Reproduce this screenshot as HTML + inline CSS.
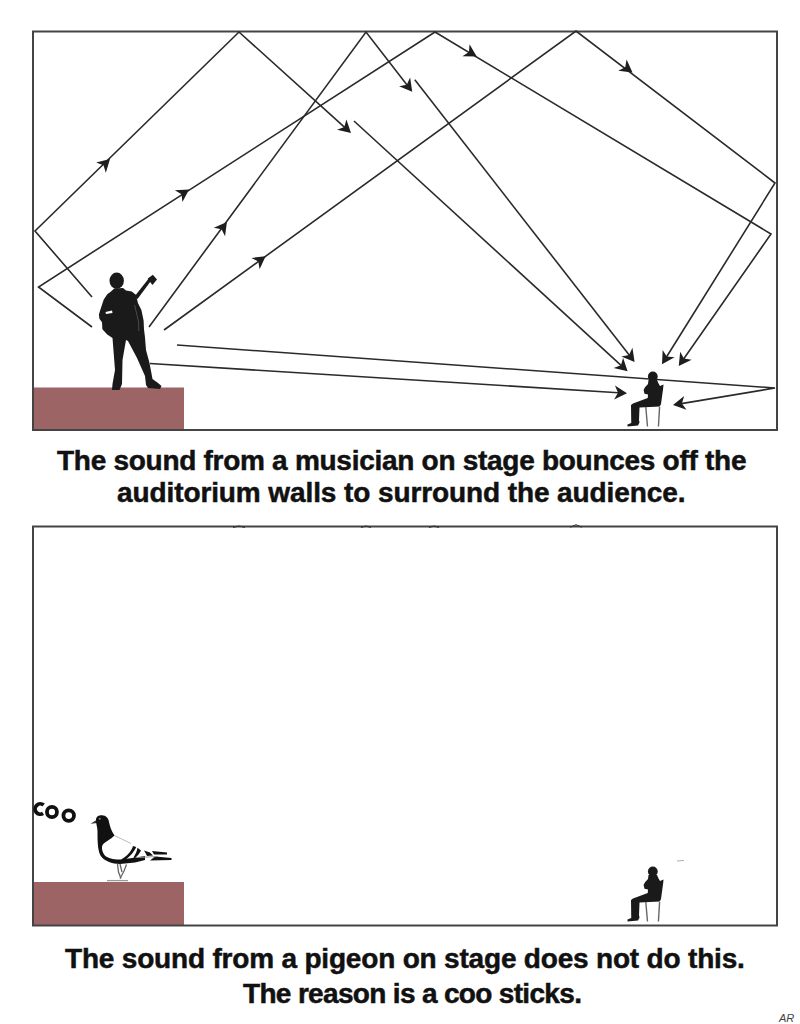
<!DOCTYPE html>
<html><head><meta charset="utf-8">
<style>
html,body{margin:0;padding:0;background:#fff;width:800px;height:1024px;overflow:hidden}
svg{position:absolute;left:0;top:0}
.cap{position:absolute;font-family:"Liberation Sans",sans-serif;font-weight:bold;font-size:28px;line-height:28px;color:#111;white-space:nowrap;-webkit-text-stroke:0.5px #111}
</style></head><body>
<svg width="800" height="1024" viewBox="0 0 800 1024">
<defs>
<g id="sitter">
<g fill="#1a1a1a"><ellipse cx="652.8" cy="376.5" rx="4.9" ry="5"/>
<path d="M648.5,380 L657,380 L658.5,383.5 L660,386 L663.5,384.5 L663.2,388 L661,404 L659.75,406.5 L639.5,407.5 L639,420 L639.5,422.5 L638,425.5 L627.5,426.5 L627.5,424.5 L631.25,423 L631,405 L633,403.5 L647.75,398 L648,394.5 L644.5,393.8 L643.6,390 L645,387.3 L648,384 Z"/></g>
<g stroke="#666" stroke-width="1.4" fill="none"><line x1="645.8" y1="407" x2="647.5" y2="426.5"/><line x1="659.6" y1="407" x2="658.4" y2="426.5"/></g>
</g>
</defs>
<!-- top panel -->
<rect x="33" y="387.5" width="151" height="42.5" fill="#9c6464"/>
<rect x="33" y="31.5" width="744" height="398.5" fill="none" stroke="#444" stroke-width="2"/>
<g fill="none" stroke="#2a2a2a" stroke-width="1.6" stroke-linejoin="miter">
<polyline points="92.00,297.00 35.00,231.00 239.00,32.00 344.69,127.31"/>
<polyline points="354.00,121.00 621.33,365.56"/>
<polyline points="92.00,327.00 38.50,287.00 435.00,32.00 771.00,234.00 683.62,359.03"/>
<polyline points="149.00,327.00 366.00,32.00 407.05,85.03"/>
<polyline points="414.80,79.80 629.38,355.29"/>
<polyline points="164.00,330.00 576.00,31.00 775.00,183.00 666.50,357.04"/>
<polyline points="177.00,345.00 775.00,388.00 681.38,403.60"/>
<polyline points="150.00,363.50 618.52,392.77"/>
</g><g fill="#1e1e1e" stroke="none">
<polygon points="351.00,133.00 337.03,129.83 344.32,126.97 346.40,119.43"/>
<polygon points="627.60,371.30 613.65,368.03 620.96,365.23 623.10,357.70"/>
<polygon points="678.75,366.00 680.17,351.74 683.91,358.62 691.65,359.76"/>
<polygon points="412.25,91.75 399.06,86.15 406.74,84.63 410.13,77.58"/>
<polygon points="634.60,362.00 621.40,356.44 629.07,354.90 632.44,347.84"/>
<polygon points="662.00,364.25 662.67,349.94 666.76,356.61 674.55,357.35"/>
<polygon points="673.00,405.00 684.18,396.04 681.88,403.52 686.48,409.85"/>
<polygon points="627.00,393.30 614.09,399.51 618.02,392.74 614.96,385.53"/>
<polygon points="110.00,159.00 105.83,172.71 103.51,165.23 96.13,162.61"/>
<polygon points="189.10,189.40 182.42,202.07 181.55,194.29 174.80,190.32"/>
<polygon points="476.75,56.50 462.43,56.21 468.99,51.94 469.51,44.14"/>
<polygon points="226.90,222.00 225.07,236.21 221.54,229.23 213.83,227.87"/>
<polygon points="265.60,256.25 259.60,269.26 258.32,261.54 251.37,257.93"/>
<polygon points="632.50,72.60 618.28,70.83 625.25,67.26 626.58,59.55"/>
</g>
<g fill="#1a1a1a">
<ellipse cx="116.7" cy="280.8" rx="7.2" ry="8.2"/>
<path d="M114.2,288.5 L123,288 L126,290.5 L131.75,291.6 L136.1,295.1 L137.9,303 L141.4,310 L143.6,320.5 L144,329.25 L145,337.5 L146,350 L149.5,363 L152.5,379 L158,383 L161.5,386 L160,389 L148,388 L146,385 L145,376 L137,358 L128,341 L126,340 L122.5,360 L122,384 L119.5,390 L112,390 L112.5,384 L115,370 L112.5,338 L107.25,334.5 L102.4,329.25 L102,322.25 L99.4,318.7 L98.9,314.4 L101.1,307.4 L103.75,299.5 L107.25,294.25 L111,291.5 Z"/>
<path d="M134.5,296.5 L149.5,277.5 L152,279.5 L137.5,299 Z"/>
<path d="M147.6,278.8 L152.8,274.8 L157,279.5 L152.5,285 Z"/>
</g>
<path d="M105.5,312 L112,310.5 L112.5,313 L106,314 Z" fill="#fff"/>
<path d="M134.6,305 L138.6,322 L138.8,331" fill="none" stroke="#fff" stroke-width="0.6" opacity="0.35"/>
<use href="#sitter"/>
<!-- bottom panel -->
<rect x="33" y="882" width="151" height="43.5" fill="#9c6464"/>
<rect x="33" y="526.5" width="744" height="399" fill="none" stroke="#444" stroke-width="2"/>
<g fill="none" stroke="#333" stroke-width="1.2"><path d="M570,527.3 L576,524.8 L582,527.3"/><path d="M233,527.3 L239,526 L245,527.3"/><path d="M361,527.3 L366,526 L371,527.3"/><path d="M429,527.3 L434,526 L439,527.3"/></g>
<use href="#sitter" transform="translate(0,495)"/>
<g fill="none" stroke="#111" stroke-width="3.8"><path d="M43.64,805.02 A5.2,5.2 0 1 0 43.06,813.41"/><ellipse cx="51.95" cy="812" rx="5.0" ry="5.1"/><ellipse cx="68.7" cy="815.6" rx="5.3" ry="5.3"/></g>
<!-- pigeon -->
<g>
<path d="M90.5,823.8 L96.5,820 L97.5,823 Z" fill="#333"/>
<path d="M96,820 C96,816.5 99,815.2 102,815.3 C106,815.5 108.5,818 109,822 C110,827 111.5,831 114.5,835.6 C110,840 105,842 102.5,845 C101,849 103,854 106,856.5 C110,859 115,859.5 121,859.5 L136,857.5 L145,856 L145,860 L135,862.5 L120,864 C112,864 104,861 100.5,855.5 C97.5,850 97.5,840 97.5,831 C97.3,826 96,824 96,820 Z" fill="#111"/>
<circle cx="99.8" cy="818.8" r="1.1" fill="#777"/>
<path d="M114.5,835.6 L131,843.5" stroke="#aaa" stroke-width="0.8"/>
<path d="M133,846 C131.5,851 127,856.5 121,859.5 L123.5,860.8 C129.5,857.5 134,852 136.2,847 Z" fill="#111"/>
<path d="M137.5,847.8 L141,850.5 C139.5,853.5 137,856.5 134.5,858.5 L133.5,857.5 C135.5,854.5 137,851 137.5,847.8 Z" fill="#111"/>
<path d="M144,850.5 L150,852.5 L153,855.5 L147,856 C146,854 145,852 144,850.5 Z" fill="#111"/>
<path d="M152,851 L167,852.6 L167,854.6 L154,854.5 Z" fill="#111"/>
<path d="M155,856.5 L171.5,858 L171.5,860 L150,860.5 Z" fill="#111"/>
<path d="M136,857.5 L158,856.5" stroke="#999" stroke-width="1"/>
<g stroke="#666" stroke-width="1.3" fill="none">
<path d="M117.5,864 L118.5,872 L121,878.5"/><path d="M126.5,864.5 L124,871 L120,878.5"/><path d="M120,864 L122,872"/>
<path d="M107,880.6 L128,880.6" stroke="#999"/>
</g>
</g>
<path d="M677,861 L684,860.5" stroke="#999" stroke-width="0.8"/>
<text x="779" y="1022" font-family="Liberation Sans" font-style="italic" font-size="11" fill="#444">AR</text>
</svg>
<div class="cap" style="left:57px;top:447px;letter-spacing:-0.28px">The sound from a musician on stage bounces off the</div>
<div class="cap" style="left:117px;top:479px;letter-spacing:-0.1px">auditorium walls to surround the audience.</div>
<div class="cap" style="left:65px;top:945px;letter-spacing:-0.19px">The sound from a pigeon on stage does not do this.</div>
<div class="cap" style="left:243px;top:980px;letter-spacing:-0.67px">The reason is a coo sticks.</div>
</body></html>
